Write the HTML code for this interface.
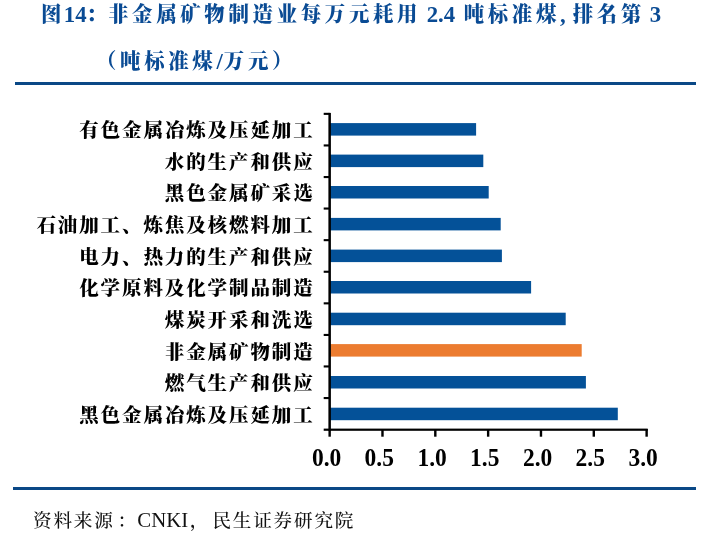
<!DOCTYPE html>
<html lang="zh-CN">
<head>
<meta charset="utf-8">
<title>图14</title>
<style>
html,body{margin:0;padding:0;background:#fff;}
body{width:703px;height:540px;position:relative;overflow:hidden;
  font-family:"Liberation Serif","Noto Serif CJK SC",serif;}
.abs{position:absolute;white-space:nowrap;}
.title{color:#0a4b94;font-weight:900;font-size:20.4px;line-height:28px;letter-spacing:3.7px;transform:scaleY(1.03);transform-origin:0 50%;}
.title .lat{letter-spacing:0;font-size:22.8px;position:relative;top:1.2px;display:inline-block;font-weight:700;}
.rule{position:absolute;background:#0a4886;height:3px;}
.lab{position:absolute;right:388.4px;color:#000;font-weight:900;font-size:19.5px;line-height:28px;margin-top:2px;
  letter-spacing:1.9px;white-space:nowrap;text-align:right;}
.xl{position:absolute;top:444px;width:60px;margin-left:-33.4px;text-align:center;color:#000;font-weight:700;
  font-size:23.5px;line-height:28px;transform:scaleY(1.05);transform-origin:50% 50%;white-space:nowrap;}
.src{color:#111;font-weight:500;font-size:18.6px;line-height:28px;letter-spacing:1.8px;}
.src .lat{letter-spacing:0;font-size:20.8px;font-weight:400;}
</style>
</head>
<body>
<div class="abs title" style="left:41px;top:0px;">图<span class="lat" style="margin-left:-1.3px;margin-right:-0.5px;">14</span>：</div>
<div class="abs title" style="left:108px;top:0px;">非金属矿物制造业每万元耗用<span class="lat" style="margin-left:5.5px;margin-right:8.5px;">2.4</span>吨标准煤<span class="lat" style="margin-left:0px;margin-right:7px;">,</span>排名第<span class="lat" style="margin-left:4.7px;">3</span></div>
<div class="abs title" style="left:96px;top:47px;">（吨标准煤<span class="lat" style="margin-right:1px;">/</span>万元）</div>
<div class="rule" style="left:15px;top:82px;width:681px;"></div>

<div class="lab" style="top:115px;">有色金属冶炼及压延加工</div>
<div class="lab" style="top:146.6px;">水的生产和供应</div>
<div class="lab" style="top:178.3px;">黑色金属矿采选</div>
<div class="lab" style="top:210px;">石油加工、炼焦及核燃料加工</div>
<div class="lab" style="top:241.6px;">电力、热力的生产和供应</div>
<div class="lab" style="top:273.3px;">化学原料及化学制品制造</div>
<div class="lab" style="top:304.9px;">煤炭开采和洗选</div>
<div class="lab" style="top:336.6px;">非金属矿物制造</div>
<div class="lab" style="top:368.2px;">燃气生产和供应</div>
<div class="lab" style="top:399.9px;">黑色金属冶炼及压延加工</div>

<svg class="abs" style="left:0;top:0;" width="703" height="540" viewBox="0 0 703 540">
<rect x="330" y="123.1" width="146.1" height="12.5" fill="#045198"/>
<rect x="330" y="154.6" width="153.3" height="12.5" fill="#045198"/>
<rect x="330" y="186.0" width="158.7" height="12.5" fill="#045198"/>
<rect x="330" y="217.9" width="170.7" height="12.5" fill="#045198"/>
<rect x="330" y="249.6" width="171.9" height="12.5" fill="#045198"/>
<rect x="330" y="281.0" width="201.1" height="12.5" fill="#045198"/>
<rect x="330" y="312.7" width="235.7" height="12.5" fill="#045198"/>
<rect x="330" y="344.1" width="251.7" height="12.5" fill="#ec7c30"/>
<rect x="330" y="376.0" width="255.9" height="12.5" fill="#045198"/>
<rect x="330" y="407.7" width="287.8" height="12.5" fill="#045198"/>
<g fill="#000">
<rect x="328.4" y="112.9" width="2.5" height="317.9"/>
<rect x="323.7" y="428.6" width="324" height="2.2"/>
<rect x="323.7" y="112.8" width="6" height="2.1"/>
<rect x="323.7" y="144.4" width="6" height="2.1"/>
<rect x="323.7" y="176.0" width="6" height="2.1"/>
<rect x="323.7" y="207.5" width="6" height="2.1"/>
<rect x="323.7" y="239.1" width="6" height="2.1"/>
<rect x="323.7" y="270.7" width="6" height="2.1"/>
<rect x="323.7" y="302.3" width="6" height="2.1"/>
<rect x="323.7" y="333.9" width="6" height="2.1"/>
<rect x="323.7" y="365.4" width="6" height="2.1"/>
<rect x="323.7" y="397.0" width="6" height="2.1"/>
<rect x="328.45" y="429" width="2.4" height="7.7"/>
<rect x="381.28" y="429" width="2.4" height="7.7"/>
<rect x="434.11" y="429" width="2.4" height="7.7"/>
<rect x="486.94" y="429" width="2.4" height="7.7"/>
<rect x="539.77" y="429" width="2.4" height="7.7"/>
<rect x="592.60" y="429" width="2.4" height="7.7"/>
<rect x="645.43" y="429" width="2.4" height="7.7"/>
</g>
</svg>

<div class="xl" style="left:330px;">0.0</div>
<div class="xl" style="left:382.7px;">0.5</div>
<div class="xl" style="left:435.5px;">1.0</div>
<div class="xl" style="left:488.2px;">1.5</div>
<div class="xl" style="left:541px;">2.0</div>
<div class="xl" style="left:593.7px;">2.5</div>
<div class="xl" style="left:646.5px;">3.0</div>

<div class="rule" style="left:13px;top:487px;width:683px;"></div>
<div class="abs src" style="left:33px;top:506px;">资料来源<span style="position:relative;left:3px;">：</span><span class="lat" style="margin-left:2.3px;margin-right:1.5px;">CNKI</span>，<span style="margin-left:2.4px;">民生证券研究院</span></div>
</body>
</html>
